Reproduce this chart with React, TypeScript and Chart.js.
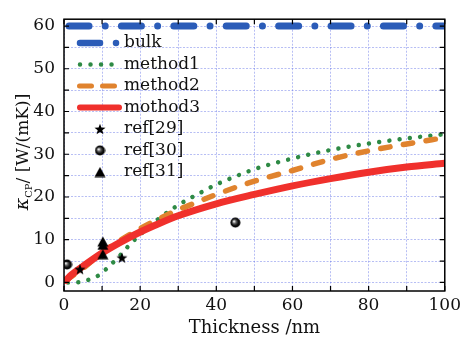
import React, { useEffect, useRef } from 'react';
import { Chart, registerables } from 'chart.js';

Chart.register(...registerables);

const FONT = '"DejaVu Serif", serif';

const BLUE = '#2b5cb8';
const GREEN = '#2e8a45';
const ORANGE = '#e0832e';
const RED = '#f0302c';

const legendLabels = ['bulk', 'method1', 'method2', 'mothod3', 'ref[29]', 'ref[30]', 'ref[31]'];

const bulkX = [0, 100];
const bulkY = [60, 60];

const method1X = [0, 3, 6, 9, 12, 15, 17, 20, 25, 30, 35, 40, 45, 50, 60, 70, 80, 90, 100];
const method1Y = [0, 0, 0.5, 1.6, 3.9, 6.6, 8.6, 11.2, 15, 18.1, 20.6, 22.9, 24.8, 26.5, 29, 31, 32.5, 33.7, 34.7];

const method2X = [0.5, 5, 10, 15, 20, 25, 30, 35, 40, 50, 60, 70, 80, 90, 100];
const method2Y = [0.5, 3.3, 7, 10, 12.6, 14.9, 17, 18.8, 20.6, 23.7, 26.2, 28.8, 30.8, 32.4, 33.9];

const method3X = [0.5, 2, 5, 10, 15, 20, 25, 30, 40, 50, 60, 70, 80, 90, 100];
const method3Y = [0.5, 1.8, 3.8, 6.9, 9.5, 11.8, 13.8, 15.6, 18.4, 20.6, 22.6, 24.3, 25.8, 27, 27.9];

const ref29X = [4.2, 15.2];
const ref29Y = [3.1, 5.8];
const ref30X = [0.8, 45];
const ref30Y = [4.2, 14];
const ref31X = [10.2, 10.2, 10.2];
const ref31Y = [9.6, 8.8, 6.6];

const xGridValues = [0, 10, 20, 30, 40, 50, 60, 70, 80, 90, 100];
const xLabelValues = [0, 20, 40, 60, 80, 100];
const yGridValues = [0, 5, 10, 15, 20, 25, 30, 35, 40, 45, 50, 55, 60];
const yLabelValues = [0, 10, 20, 30, 40, 50, 60];

function pts(xs: number[], ys: number[]) {
  return xs.map((x, i) => ({ x, y: ys[i] }));
}

function makeStar(): HTMLCanvasElement {
  const c = document.createElement('canvas');
  c.width = 12;
  c.height = 12;
  const g = c.getContext('2d')!;
  g.fillStyle = '#000';
  g.beginPath();
  const cx = 6, cy = 6.5, R = 5.8, r = 2.4;
  for (let i = 0; i < 10; i++) {
    const a = -Math.PI / 2 + (i * Math.PI) / 5;
    const rr = i % 2 === 0 ? R : r;
    const px = cx + rr * Math.cos(a);
    const py = cy + rr * Math.sin(a);
    if (i === 0) g.moveTo(px, py);
    else g.lineTo(px, py);
  }
  g.closePath();
  g.fill();
  return c;
}

function makeSphere(): HTMLCanvasElement {
  const c = document.createElement('canvas');
  c.width = 11;
  c.height = 11;
  const g = c.getContext('2d')!;
  const grad = g.createRadialGradient(4, 4.2, 0.3, 5.5, 5.5, 5);
  grad.addColorStop(0, '#ffffff');
  grad.addColorStop(0.3, '#6a6a6a');
  grad.addColorStop(0.65, '#111111');
  grad.addColorStop(1, '#000000');
  g.fillStyle = grad;
  g.beginPath();
  g.arc(5.5, 5.5, 5, 0, Math.PI * 2);
  g.fill();
  return c;
}

function makeTriangle(): HTMLCanvasElement {
  const c = document.createElement('canvas');
  c.width = 12;
  c.height = 11;
  const g = c.getContext('2d')!;
  g.fillStyle = '#000';
  g.beginPath();
  g.moveTo(6, 0.5);
  g.lineTo(11.5, 10.5);
  g.lineTo(0.5, 10.5);
  g.closePath();
  g.fill();
  return c;
}

export default function App() {
  const ref = useRef<HTMLCanvasElement | null>(null);

  useEffect(() => {
    if (!ref.current) return;
    const star = makeStar();
    const sphere = makeSphere();
    const tri = makeTriangle();

    const framePlugin = {
      id: 'frame',
      afterDatasetsDraw(chart: any) {
        const { ctx, chartArea: a, scales } = chart;
        ctx.save();
        ctx.strokeStyle = '#000';
        ctx.lineWidth = 1.5;
        ctx.setLineDash([]);
        ctx.strokeRect(a.left, a.top, a.right - a.left, a.bottom - a.top);
        ctx.lineWidth = 1.2;
        ctx.beginPath();
        xGridValues.forEach((v) => {
          const px = scales.x.getPixelForValue(v);
          ctx.moveTo(px, a.bottom);
          ctx.lineTo(px, a.bottom - 5);
          ctx.moveTo(px, a.top);
          ctx.lineTo(px, a.top + 5);
        });
        yGridValues.forEach((v) => {
          const py = scales.y.getPixelForValue(v);
          ctx.moveTo(a.left, py);
          ctx.lineTo(a.left + 5, py);
          ctx.moveTo(a.right, py);
          ctx.lineTo(a.right - 5, py);
        });
        ctx.stroke();
        ctx.restore();
      },
    };

    const legendPlugin = {
      id: 'customLegend',
      afterDraw(chart: any) {
        const ctx = chart.ctx;
        const rows = [43, 64.5, 86, 107.5, 129, 150.5, 172];
        ctx.save();
        ctx.lineCap = 'round';
        // bulk
        ctx.strokeStyle = BLUE;
        ctx.lineWidth = 6.5;
        ctx.setLineDash([20, 16, 0.01, 100]);
        ctx.beginPath();
        ctx.moveTo(80, rows[0]);
        ctx.lineTo(117, rows[0]);
        ctx.stroke();
        // method1
        ctx.strokeStyle = GREEN;
        ctx.lineWidth = 4.5;
        ctx.setLineDash([0.01, 10.5]);
        ctx.beginPath();
        ctx.moveTo(80, rows[1]);
        ctx.lineTo(113, rows[1]);
        ctx.stroke();
        // method2
        ctx.strokeStyle = ORANGE;
        ctx.lineWidth = 5;
        ctx.setLineDash([12, 11]);
        ctx.beginPath();
        ctx.moveTo(79.5, rows[2]);
        ctx.lineTo(115, rows[2]);
        ctx.stroke();
        // method3
        ctx.strokeStyle = RED;
        ctx.lineWidth = 6;
        ctx.setLineDash([]);
        ctx.beginPath();
        ctx.moveTo(80, rows[3]);
        ctx.lineTo(119, rows[3]);
        ctx.stroke();
        // markers
        ctx.drawImage(star, 100 - star.width / 2, rows[4] - star.height / 2);
        ctx.drawImage(sphere, 100 - sphere.width / 2, rows[5] - sphere.height / 2);
        ctx.drawImage(tri, 100 - tri.width / 2, rows[6] - tri.height / 2);
        // labels
        ctx.fillStyle = '#111';
        ctx.font = `17px ${FONT}`;
        ctx.textBaseline = 'middle';
        ctx.textAlign = 'left';
        legendLabels.forEach((t, i) => ctx.fillText(t, 124, rows[i]));
        ctx.restore();
      },
    };

    const yTitlePlugin = {
      id: 'yTitle',
      afterDraw(chart: any) {
        const ctx = chart.ctx;
        const parts = [
          { t: 'κ', font: `italic 19px ${FONT}`, dy: 0 },
          { t: 'CP', font: `10px ${FONT}`, dy: 4 },
          { t: '/ [W/(mK)]', font: `17px ${FONT}`, dy: 0 },
        ];
        ctx.save();
        let total = 0;
        const widths = parts.map((p) => {
          ctx.font = p.font;
          const w = ctx.measureText(p.t).width;
          total += w;
          return w;
        });
        ctx.translate(28, 152);
        ctx.rotate(-Math.PI / 2);
        ctx.fillStyle = '#111';
        ctx.textBaseline = 'alphabetic';
        ctx.textAlign = 'left';
        let x = -total / 2;
        parts.forEach((p, i) => {
          ctx.font = p.font;
          ctx.fillText(p.t, x, p.dy);
          x += widths[i];
        });
        ctx.restore();
      },
    };

    const gridColor = 'rgba(95,110,230,0.45)';

    const chart = new Chart(ref.current, {
      type: 'line',
      data: {
        datasets: [
          {
            label: 'ref[29]',
            data: pts(ref29X, ref29Y),
            showLine: false,
            pointStyle: star as any,
            order: 0,
          },
          {
            label: 'ref[30]',
            data: pts(ref30X, ref30Y),
            showLine: false,
            pointStyle: sphere as any,
            order: 0,
          },
          {
            label: 'ref[31]',
            data: pts(ref31X, ref31Y),
            showLine: false,
            pointStyle: tri as any,
            order: 0,
          },
          {
            label: 'mothod3',
            data: pts(method3X, method3Y),
            borderColor: RED,
            borderWidth: 7,
            pointRadius: 0,
            cubicInterpolationMode: 'monotone',
            borderCapStyle: 'round',
            order: 1,
          },
          {
            label: 'method2',
            data: pts(method2X, method2Y),
            borderColor: ORANGE,
            borderWidth: 5.5,
            borderDash: [9.5, 13.5],
            borderCapStyle: 'round',
            pointRadius: 0,
            cubicInterpolationMode: 'monotone',
            order: 2,
          },
          {
            label: 'method1',
            data: pts(method1X, method1Y),
            borderColor: GREEN,
            borderWidth: 4.5,
            borderDash: [0.01, 10.3],
            borderDashOffset: -4,
            borderCapStyle: 'round',
            pointRadius: 0,
            cubicInterpolationMode: 'monotone',
            order: 3,
          },
          {
            label: 'bulk',
            data: pts(bulkX, bulkY),
            borderColor: BLUE,
            borderWidth: 7,
            borderDash: [20, 16.2, 0.01, 16.2],
            borderDashOffset: 47.4,
            borderCapStyle: 'round',
            pointRadius: 0,
            order: 4,
          },
        ] as any,
      },
      options: {
        responsive: false,
        animation: false,
        layout: { padding: { left: 0, right: 16, top: 11, bottom: 0 } },
        plugins: {
          legend: { display: false },
          tooltip: { enabled: false },
        },
        scales: {
          x: {
            type: 'linear',
            min: 0,
            max: 100,
            afterFit: (s: any) => {
              s.height = 46;
            },
            afterBuildTicks: (s: any) => {
              s.ticks = xGridValues.map((v) => ({ value: v }));
            },
            ticks: {
              autoSkip: false,
              maxRotation: 0,
              padding: 4,
              color: '#111',
              font: { family: FONT, size: 17 },
              callback: (v: any) => (xLabelValues.includes(Number(v)) ? String(v) : ''),
            },
            grid: {
              color: gridColor,
              lineWidth: 1,
              drawTicks: false,
            },
            border: { display: false, dash: [2, 1.5] },
            title: {
              display: true,
              text: 'Thickness /nm',
              color: '#111',
              font: { family: FONT, size: 18, lineHeight: 1 },
              padding: { top: 0, bottom: 0 },
            },
          },
          y: {
            type: 'linear',
            min: -2,
            max: 61.6,
            afterFit: (s: any) => {
              s.width = 64;
            },
            afterBuildTicks: (s: any) => {
              s.ticks = yGridValues.map((v) => ({ value: v }));
            },
            ticks: {
              autoSkip: false,
              padding: 9,
              color: '#111',
              font: { family: FONT, size: 17 },
              callback: (v: any) => (yLabelValues.includes(Number(v)) ? String(v) : ''),
            },
            grid: {
              color: gridColor,
              lineWidth: 1,
              drawTicks: false,
            },
            border: { display: false, dash: [2, 1.5] },
          },
        },
      },
      plugins: [framePlugin, legendPlugin, yTitlePlugin],
    });
    return () => chart.destroy();
  }, []);

  return (
    <div style={{ position: 'absolute', left: 0, top: 0, width: 465, height: 337, background: '#fff' }}>
      <canvas ref={ref} width={465} height={337} style={{ display: 'block' }} />
    </div>
  );
}
